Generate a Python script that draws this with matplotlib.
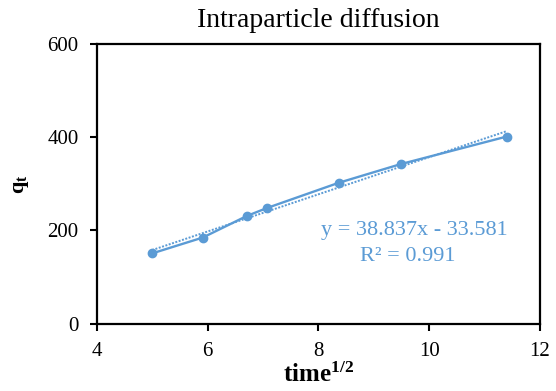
import numpy as np
import matplotlib
matplotlib.use("Agg")
import matplotlib.pyplot as plt

# Data
time_sqrt = [5.0, 5.916, 6.708, 7.071, 8.367, 9.487, 11.402]
qt = [151, 185, 231, 248, 302, 342, 401]
x_ticks = [4, 6, 8, 10, 12]
y_ticks = [0, 200, 400, 600]
title = "Intraparticle diffusion"
eq_lines = ["y = 38.837x - 33.581", "R\u00b2 = 0.991"]
eq_x = [9.74, 9.61]
eq_y = [191, 134]

blue = "#5B9BD5"
plt.rcParams['font.family'] = ['Liberation Serif', 'DejaVu Serif']
plt.rcParams['mathtext.fontset'] = 'custom'
plt.rcParams['mathtext.rm'] = 'Liberation Serif'
plt.rcParams['mathtext.it'] = 'Liberation Serif:italic'
plt.rcParams['mathtext.bf'] = 'Liberation Serif:bold'

fig = plt.figure(figsize=(5.56, 3.91), dpi=100)
ax = fig.add_axes([0.174, 0.1714, 0.797, 0.7173])

ax.plot(time_sqrt, qt, color=blue, lw=1.7, marker='o', markersize=6, zorder=3)

coef = np.polyfit(time_sqrt, qt, 1)
xs = np.array([min(time_sqrt), max(time_sqrt)])
ax.plot(xs, np.polyval(coef, xs), color=blue, lw=1.4, ls=(0, (1, 0.8)), zorder=2)

ax.set_xlim(4, 12)
ax.set_ylim(0, 600)
ax.set_xticks(x_ticks)
ax.set_yticks(y_ticks)
ax.tick_params(axis='both', direction='out', length=5, width=1.5, labelsize=15, pad=8)
for s in ax.spines.values():
    s.set_linewidth(1.6)

ax.set_title(title, fontsize=20, pad=12)
ax.set_xlabel(r"$\mathbf{time}^{\mathbf{1/2}}$", fontsize=18, labelpad=1)
ax.set_ylabel(r"$\mathbf{q}_{\mathbf{t}}$", fontsize=16, labelpad=12)

for t, xx, yy in zip(eq_lines, eq_x, eq_y):
    ax.text(xx, yy, t, color=blue, fontsize=16, ha='center', va='baseline')

fig.savefig("out.png", dpi=100)
